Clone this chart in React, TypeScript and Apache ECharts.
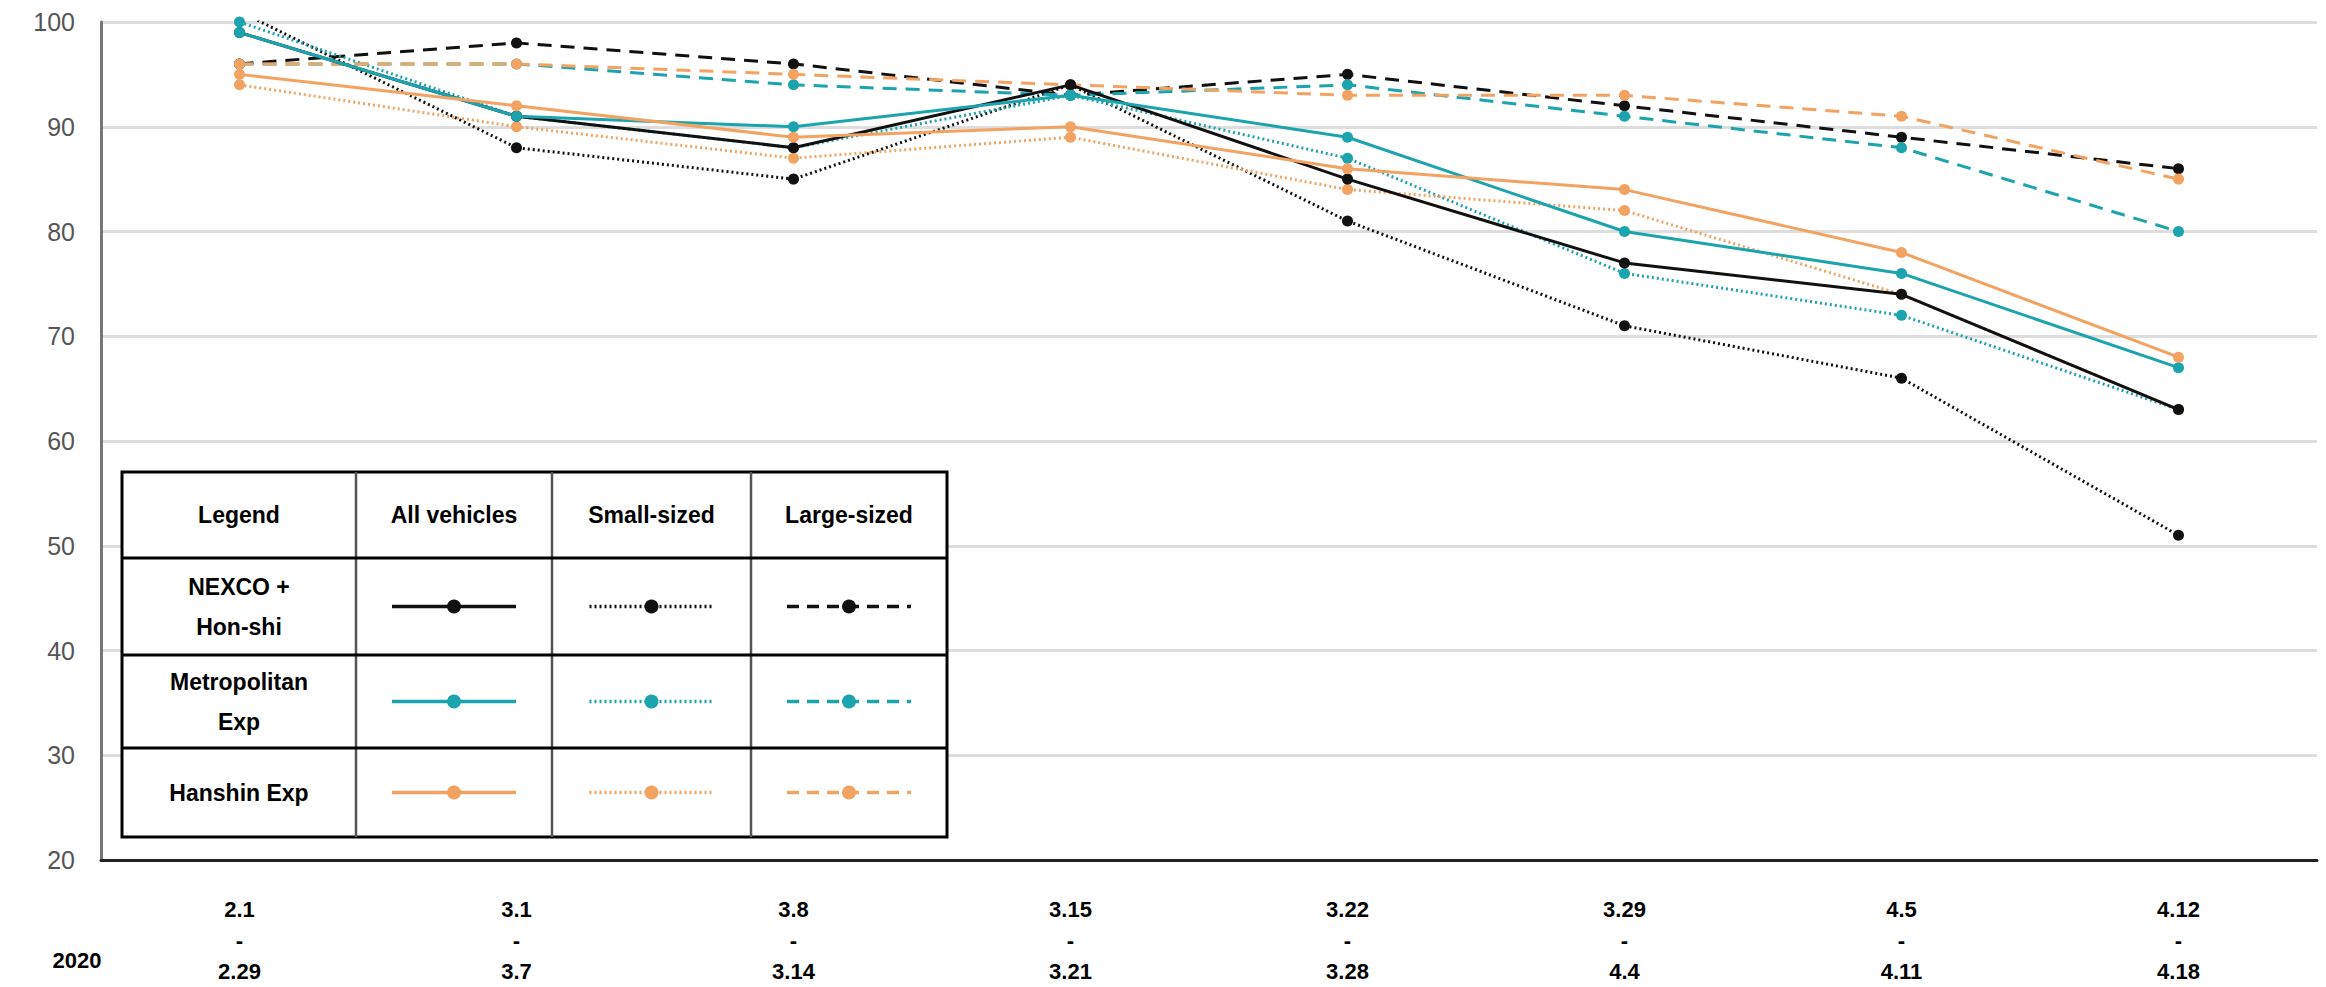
import React, { useEffect, useRef } from "react";
import * as echarts from "echarts";

const categories = ["2.1\n-\n2.29", "3.1\n-\n3.7", "3.8\n-\n3.14", "3.15\n-\n3.21", "3.22\n-\n3.28", "3.29\n-\n4.4", "4.5\n-\n4.11", "4.12\n-\n4.18"];
const nexcoAll = [99, 91, 88, 94, 85, 77, 74, 63];
const nexcoSmall = [101, 88, 85, 94, 81, 71, 66, 51];
const nexcoLarge = [96, 98, 96, 93, 95, 92, 89, 86];
const metroAll = [99, 91, 90, 93, 89, 80, 76, 67];
const metroSmall = [100, 91, 88, 93, 87, 76, 72, 63];
const metroLarge = [96, 96, 94, 93, 94, 91, 88, 80];
const hanshinAll = [95, 92, 89, 90, 86, 84, 78, 68];
const hanshinSmall = [94, 90, 87, 89, 84, 82, 74, 63];
const hanshinLarge = [96, 96, 95, 94, 93, 93, 91, 85];

const BLACK = "#111111";
const TEAL = "#1ba3ae";
const ORANGE = "#f2a261";
const FONT = "'Liberation Sans Narrow', 'Liberation Sans', Arial, sans-serif";

const dashTypes: any = { all: "solid", small: [2, 3], large: [14, 9] };

function mk(name: string, data: number[], color: string, kind: string) {
  return {
    name, type: "line", data, symbol: "circle", symbolSize: 11,
    lineStyle: { color, width: 3, type: dashTypes[kind] },
    itemStyle: { color },
    z: kind === "all" ? 3 : 2,
  };
}

export default function App() {
  const ref = useRef<HTMLDivElement>(null);
  useEffect(() => {
    const chart = echarts.init(ref.current!, undefined, { renderer: "svg" });
    const colX = [122, 356, 552, 751, 947];
    const rowY = [472, 558, 655, 748, 837];
    const g: any[] = [];
    g.push({ type: "rect", shape: { x: 122, y: 472, width: 825, height: 365 }, style: { fill: "#fff", stroke: "#000", lineWidth: 3 }, z: 100 });
    colX.slice(1, 4).forEach((x) => g.push({ type: "line", shape: { x1: x, y1: 472, x2: x, y2: 837 }, style: { stroke: "#555", lineWidth: 2.5 }, z: 101 }));
    rowY.slice(1, 4).forEach((y) => g.push({ type: "line", shape: { x1: 122, y1: y, x2: 947, y2: y }, style: { stroke: "#000", lineWidth: 3 }, z: 101 }));
    const headers = ["Legend", "All vehicles", "Small-sized", "Large-sized"];
    headers.forEach((h, i) => g.push({ type: "text", x: (colX[i] + colX[i + 1]) / 2, y: 515, style: { text: h, font: `bold 23px ${FONT}`, fill: "#000", align: "center", verticalAlign: "middle" }, z: 102 }));
    const rowNames = ["NEXCO +\nHon-shi", "Metropolitan\nExp", "Hanshin Exp"];
    const rowColors = [BLACK, TEAL, ORANGE];
    const kinds = ["all", "small", "large"];
    rowNames.forEach((n, r) => {
      const cy = (rowY[r + 1] + rowY[r + 2]) / 2;
      g.push({ type: "text", x: 239, y: cy, style: { text: n, font: `bold 23px ${FONT}`, fill: "#000", align: "center", verticalAlign: "middle", lineHeight: 40 }, z: 102 });
      kinds.forEach((k, c) => {
        const cx = (colX[c + 1] + colX[c + 2]) / 2;
        g.push({ type: "line", shape: { x1: cx - 62, y1: cy, x2: cx + 62, y2: cy }, style: { stroke: rowColors[r], lineWidth: 3.5, lineDash: k === "all" ? null : k === "small" ? [2, 3] : [12, 8] }, z: 102 });
        g.push({ type: "circle", shape: { cx, cy, r: 7 }, style: { fill: rowColors[r] }, z: 103 });
      });
    });
    g.push({ type: "text", x: 77, y: 960, style: { text: "2020", font: `bold 22px ${FONT}`, fill: "#000", align: "center", verticalAlign: "middle" } });

    chart.setOption({
      animation: false,
      grid: { left: 101, right: 9, top: 22, bottom: 123 },
      xAxis: {
        type: "category", data: categories, boundaryGap: true,
        axisLine: { lineStyle: { color: "#222", width: 3 } },
        axisTick: { show: false },
        axisLabel: { color: "#000", fontWeight: "bold", fontSize: 22, fontFamily: FONT, lineHeight: 31, margin: 34 },
      },
      yAxis: {
        type: "value", min: 20, max: 100, interval: 10,
        axisLine: { show: true, lineStyle: { color: "#777", width: 3 } },
        axisTick: { show: false },
        axisLabel: { color: "#555", fontSize: 25, fontFamily: FONT, margin: 26 },
        splitLine: { lineStyle: { color: "#dddddd", width: 3 } },
      },
      series: [
        mk("NEXCO all", nexcoAll, BLACK, "all"),
        mk("NEXCO small", nexcoSmall, BLACK, "small"),
        mk("NEXCO large", nexcoLarge, BLACK, "large"),
        mk("Metro all", metroAll, TEAL, "all"),
        mk("Metro small", metroSmall, TEAL, "small"),
        mk("Metro large", metroLarge, TEAL, "large"),
        mk("Hanshin all", hanshinAll, ORANGE, "all"),
        mk("Hanshin small", hanshinSmall, ORANGE, "small"),
        mk("Hanshin large", hanshinLarge, ORANGE, "large"),
      ],
      graphic: g,
    });
    return () => chart.dispose();
  }, []);
  return <div ref={ref} style={{ position: "absolute", left: 0, top: 0, width: 2326, height: 987, background: "#fff" }} />;
}
